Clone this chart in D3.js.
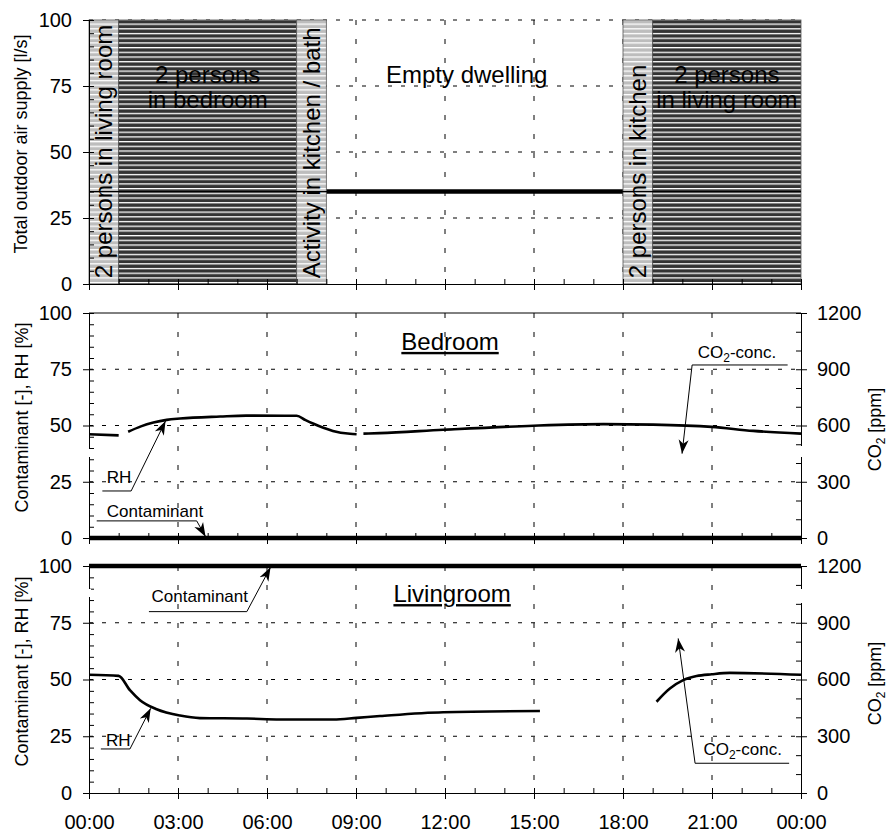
<!DOCTYPE html>
<html>
<head>
<meta charset="utf-8">
<script src="https://cdnjs.cloudflare.com/ajax/libs/d3/7.8.5/d3.min.js"></script>
<style>
body { margin: 0; background: #fff; }
svg { font-family: "Liberation Sans", Arial, sans-serif; }
.axis path, .axis line { stroke: #000; stroke-width: 1; }
.axis text { font-size: 20px; fill: #000; font-family: "Liberation Sans", Arial, sans-serif; }
.grid { stroke: #000; stroke-width: 1; fill: none; }
.title { font-size: 18px; fill: #000; }
.note { font-size: 17px; fill: #000; }
</style>
</head>
<body>
<div id="vis"></div>
<script>
// x axis: time of day (hours)
var hourTicks = [0, 3, 6, 9, 12, 15, 18, 21, 24];
var hourLabels = ["00:00", "03:00", "06:00", "09:00", "12:00", "15:00", "18:00", "21:00", "00:00"];
var pctTicks = [0, 25, 50, 75, 100];
var co2Ticks = [0, 300, 600, 900, 1200];

// occupancy schedule shown in the top panel
var schedStart = [0, 1, 7, 8, 18, 19];
var schedEnd = [1, 7, 8, 18, 19, 24];
var schedKind = ["light", "dark", "light", "none", "light", "dark"];
var schedText = ["2 persons in living room", "2 persons|in bedroom", "Activity in kitchen / bath",
                 "Empty dwelling", "2 persons in kitchen", "2 persons|in living room"];

// total outdoor air supply [l/s]
var supplyHours = [0, 24];
var supplyValues = [35, 35];

// bedroom: RH / CO2 curve (null = gap) and contaminant
var bedHours = [0, 1.0, 1.1, 1.32, 1.75, 2.17, 2.62, 3.07, 4.42, 5.3, 7.0, 7.3, 7.55, 7.9, 8.22, 8.8, 9.02, 9.1,
                9.25, 9.8, 11.94, 14.98, 17.34, 19.02, 20.99, 22.39, 24];
var bedValues = [46.1, 45.6, null, 47.2, 49.6, 51.3, 52.5, 53.1, 54.0, 54.4, 54.3, 52.4, 50.9, 49.0, 47.6, 46.3, 46.1, null,
                 46.4, 46.6, 48.1, 49.9, 50.6, 50.4, 49.4, 47.6, 46.4];
var bedContHours = [0, 24];
var bedContValues = [0, 0];

// living room: RH / CO2 curve (null = gap) and contaminant
var livHours = [0, 1.0, 1.38, 1.72, 2.28, 3.07, 3.74, 5.32, 6.44, 8.24, 9.02, 9.81, 11.94, 15.2, 15.5,
                19.13, 19.58, 20.03, 20.48, 20.99, 21.6, 24];
var livValues = [52.1, 51.6, 45.3, 40.9, 36.9, 34.1, 33.0, 32.8, 32.4, 32.4, 33.1, 33.9, 35.6, 36.1, null,
                 40.2, 46.0, 49.7, 51.5, 52.3, 52.9, 52.1];
var livContHours = [0, 24];
var livContValues = [100, 100];

var W = 888, H = 832;
var svg = d3.select("#vis").append("svg").attr("width", W).attr("height", H);

var x = d3.scaleLinear().domain([0, 24]).range([89, 801]);

var panels = {
    top: { y0: 284, y1: 20 },
    mid: { y0: 538, y1: 313 },
    bot: { y0: 793, y1: 566 }
};
Object.keys(panels).forEach(function(k) {
    var p = panels[k];
    p.y = d3.scaleLinear().domain([0, 100]).range([p.y0, p.y1]);
    p.co2 = d3.scaleLinear().domain([0, 1200]).range([p.y0, p.y1]);
});

var defs = svg.append("defs");
function hatch(id, fill) {
    var pat = defs.append("pattern").attr("id", id).attr("patternUnits", "userSpaceOnUse")
        .attr("width", 10).attr("height", 4.7);
    pat.append("rect").attr("width", 10).attr("height", 4.7).attr("fill", fill);
    pat.append("rect").attr("y", 0).attr("width", 10).attr("height", 1.3).attr("fill", "#fff");
}
hatch("darkHatch", "#333");
hatch("lightHatch", "#bdbdbd");

defs.append("marker").attr("id", "arrow")
    .attr("viewBox", "-14 -6 16 12").attr("refX", 0).attr("refY", 0)
    .attr("markerWidth", 16).attr("markerHeight", 12)
    .attr("markerUnits", "userSpaceOnUse").attr("orient", "auto")
    .append("path").attr("d", "M0,0 L-14,-5 L-10,0 L-14,5 Z").attr("fill", "#000");

// dashed grid
function grid(p, withTop) {
    var g = svg.append("g");
    hourTicks.slice(1, -1).forEach(function(h) {
        g.append("line").attr("class", "grid").attr("stroke-dasharray", "5,14")
            .attr("x1", x(h)).attr("x2", x(h)).attr("y1", p.y1).attr("y2", p.y0);
    });
    pctTicks.slice(1, withTop ? 5 : 4).forEach(function(v) {
        g.append("line").attr("class", "grid").attr("stroke-dasharray", "4,9")
            .attr("x1", x(0)).attr("x2", x(24)).attr("y1", p.y(v)).attr("y2", p.y(v));
    });
}
grid(panels.top, true);
grid(panels.mid, false);
grid(panels.bot, false);

// border lines at top of lower panels
[panels.mid, panels.bot].forEach(function(p) {
    svg.append("line").attr("x1", x(0)).attr("x2", x(24)).attr("y1", p.y1).attr("y2", p.y1)
        .attr("stroke", "#000").attr("stroke-width", 1);
});

// ---- top panel ----
var tp = panels.top;
var supplyLine = d3.line().x(function(d, i) { return x(supplyHours[i]); }).y(function(d) { return tp.y(d); });
svg.append("path").datum(supplyValues).attr("d", supplyLine)
    .attr("fill", "none").attr("stroke", "#000").attr("stroke-width", 4.5);

schedStart.forEach(function(s, i) {
    if (schedKind[i] === "none") return;
    svg.append("rect").attr("x", x(s)).attr("y", tp.y1)
        .attr("width", x(schedEnd[i]) - x(s)).attr("height", tp.y0 - tp.y1)
        .attr("fill", schedKind[i] === "dark" ? "url(#darkHatch)" : "url(#lightHatch)")
        .attr("stroke", "#555").attr("stroke-width", 0.8);
});
svg.append("path").datum(supplyValues).attr("d", supplyLine)
    .attr("fill", "none").attr("stroke", "#000").attr("stroke-width", 1.3);

schedStart.forEach(function(s, i) {
    var cx = x((s + schedEnd[i]) / 2);
    var parts = schedText[i].split("|");
    if (schedKind[i] === "light") {
        svg.append("text").attr("transform", "translate(" + cx + "," + tp.y(2.2) + ") rotate(-90)")
            .attr("dy", "0.36em").style("font-size", "24px").text(schedText[i]);
    } else if (schedKind[i] === "none") {
        svg.append("text").attr("x", x(12.73)).attr("y", tp.y(76.1)).attr("text-anchor", "middle")
            .style("font-size", "24px").text(schedText[i]);
    } else {
        parts.forEach(function(t, j) {
            svg.append("text").attr("x", cx).attr("y", tp.y(76.3 - j * 9.8)).attr("text-anchor", "middle")
                .style("font-size", "24px").text(t);
        });
    }
});

// ---- axes ----
function leftAxis(p) {
    svg.append("g").attr("class", "axis").attr("transform", "translate(" + x(0) + ",0)")
        .call(d3.axisLeft(p.y).tickValues(d3.range(0, 101, 5)).tickSize(-5).tickSizeOuter(0).tickFormat(""));
    svg.append("g").attr("class", "axis").attr("transform", "translate(" + x(0) + ",0)")
        .call(d3.axisLeft(p.y).tickValues(pctTicks).tickSize(6).tickSizeOuter(0).tickPadding(11));
}
function rightAxis(p) {
    svg.append("g").attr("class", "axis").attr("transform", "translate(" + x(24) + ",0)")
        .call(d3.axisRight(p.co2).tickValues(d3.range(0, 1201, 100)).tickSize(-5).tickSizeOuter(0).tickFormat(""));
    svg.append("g").attr("class", "axis").attr("transform", "translate(" + x(24) + ",0)")
        .call(d3.axisRight(p.co2).tickValues(co2Ticks).tickSize(6).tickSizeOuter(0).tickPadding(10)
            .tickFormat(d3.format("d")));
}
function bottomAxis(p, labels) {
    svg.append("g").attr("class", "axis").attr("transform", "translate(0," + p.y0 + ")")
        .call(d3.axisBottom(x).tickValues(d3.range(0, 25, 1)).tickSize(-5).tickSizeOuter(0).tickFormat(""));
    svg.append("g").attr("class", "axis").attr("transform", "translate(0," + p.y0 + ")")
        .call(d3.axisBottom(x).tickValues(hourTicks).tickSize(6).tickSizeOuter(0).tickPadding(16)
            .tickFormat(function(d, i) { return labels ? hourLabels[i] : ""; }));
}
leftAxis(panels.top); bottomAxis(panels.top, false);
leftAxis(panels.mid); rightAxis(panels.mid); bottomAxis(panels.mid, false);
leftAxis(panels.bot); rightAxis(panels.bot); bottomAxis(panels.bot, true);

// small breaks in the axis lines (behind the original note boxes)
[[x(0) - 1, 449, 3, 8], [x(24) - 1, 446, 3, 11], [x(0) - 1, 589, 3, 8], [x(24) - 1, 589, 3, 14]].forEach(function(r) {
    svg.append("rect").attr("x", r[0]).attr("y", r[1]).attr("width", r[2]).attr("height", r[3]).attr("fill", "#fff");
});

// axis titles
function yTitle(cx, cy, txt) {
    svg.append("text").attr("class", "title").attr("text-anchor", "middle")
        .attr("transform", "translate(" + cx + "," + cy + ") rotate(-90)").text(txt);
}
yTitle(27, (tp.y0 + tp.y1) / 2 - 8, "Total outdoor air supply [l/s]");
yTitle(28, (panels.mid.y0 + panels.mid.y1) / 2 - 8, "Contaminant [-], RH [%]");
yTitle(28, (panels.bot.y0 + panels.bot.y1) / 2 - 8, "Contaminant [-], RH [%]");
function co2Title(p) {
    var t = svg.append("text").attr("class", "title").attr("text-anchor", "middle")
        .attr("transform", "translate(881," + ((p.y0 + p.y1) / 2 + 4) + ") rotate(-90)");
    t.append("tspan").text("CO");
    t.append("tspan").attr("dy", 4).style("font-size", "12px").text("2");
    t.append("tspan").attr("dy", -4).text(" [ppm]");
}
co2Title(panels.mid);
co2Title(panels.bot);

// ---- data lines ----
function series(p, hours, values, w) {
    var line = d3.line().defined(function(d) { return d !== null; })
        .x(function(d, i) { return x(hours[i]); })
        .y(function(d) { return p.y(d); })
        .curve(d3.curveMonotoneX);
    svg.append("path").datum(values).attr("d", line)
        .attr("fill", "none").attr("stroke", "#000").attr("stroke-width", w);
}
series(panels.mid, bedHours, bedValues, 2.6);
series(panels.mid, bedContHours, bedContValues, 4.5);
series(panels.bot, livHours, livValues, 2.6);
series(panels.bot, livContHours, livContValues, 4.5);

// ---- annotations ----
function note(p, txt, tx, tv, lx1, lx2, lv, ax, av, sub) {
    var t = svg.append("text").attr("class", "note").attr("x", x(tx)).attr("y", p.y(tv));
    if (sub) {
        t.append("tspan").text("CO");
        t.append("tspan").attr("dy", 4).style("font-size", "12px").text("2");
        t.append("tspan").attr("dy", -4).text("-conc.");
    } else {
        t.text(txt);
    }
    svg.append("line").attr("x1", x(lx1)).attr("x2", x(lx2)).attr("y1", p.y(lv)).attr("y2", p.y(lv))
        .attr("stroke", "#000").attr("stroke-width", 1);
    var kx = sub ? x(lx1) : x(lx2);
    svg.append("line").attr("x1", kx).attr("y1", p.y(lv)).attr("x2", x(ax)).attr("y2", p.y(av))
        .attr("stroke", "#000").attr("stroke-width", 1).attr("marker-end", "url(#arrow)");
}
var mp = panels.mid, bp = panels.bot;
note(mp, "RH", 0.6, 24.3, 0.45, 1.42, 20.9, 2.58, 52, false);
note(mp, "Contaminant", 0.6, 9.5, 0.26, 3.63, 7.6, 3.93, 0.6, false);
note(mp, "", 20.52, 80, 20.33, 23.55, 76.9, 19.99, 37.5, true);
note(bp, "Contaminant", 2.11, 84.1, 2.02, 5.32, 79.9, 6.12, 99.5, false);
note(bp, "RH", 0.57, 20.7, 0.4, 1.38, 19.4, 2.08, 37.3, false);
note(bp, "", 20.71, 16.7, 20.43, 23.6, 13.1, 19.86, 68.1, true);

// room titles
function roomTitle(p, txt, h, v) {
    svg.append("text").attr("x", x(h)).attr("y", p.y(v)).attr("text-anchor", "middle")
        .style("font-size", "24px").style("text-decoration", "underline").text(txt);
}
roomTitle(mp, "Bedroom", 12.17, 83.6);
roomTitle(bp, "Livingroom", 12.24, 84.1);
</script>
</body>
</html>
